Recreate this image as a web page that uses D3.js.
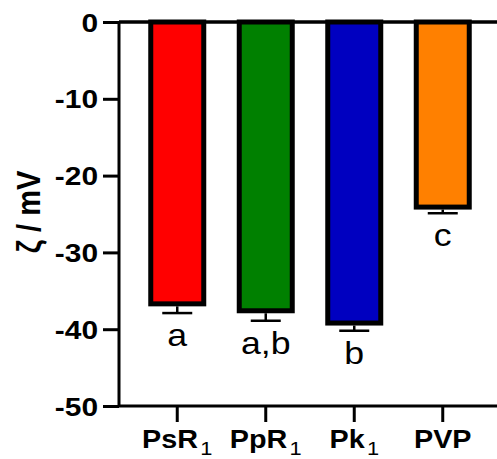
<!DOCTYPE html>
<html><head><meta charset="utf-8">
<script src="https://cdn.jsdelivr.net/npm/d3@7"></script>
<style>body{margin:0;background:#fff}svg{display:block}</style>
</head><body>
<script>
const categories = ["PsR", "PpR", "Pk", "PVP"];
const subscripts = ["1", "1", "1", ""];
const means = [-36.7, -37.6, -39.2, -24.1];
const errors = [1.2, 1.3, 1.0, 0.8];
const letters = ["a", "a,b", "b", "c"];
const colors = ["#ff0000", "#008000", "#0000c0", "#ff8000"];
const yTicks = [0, -10, -20, -30, -40, -50];

const W = 497, H = 459;
const SX = 1.15; // horizontal text stretch of the reference
const svg = d3.select("body").append("svg").attr("width", W).attr("height", H);
const font = "Liberation Sans, Arial, Helvetica, sans-serif";

const y = d3.scaleLinear().domain([0, -50]).range([22, 406]);
const x = d3.scaleBand().domain(categories).range([133, 487]).paddingInner(0).paddingOuter(0);
const barW = 53;

// bars
svg.selectAll("rect.bar").data(categories).enter().append("rect")
  .attr("x", d => x(d) + x.bandwidth()/2 - barW/2)
  .attr("y", y(0))
  .attr("width", barW)
  .attr("height", (d,i) => y(means[i]) - y(0))
  .attr("fill", (d,i) => colors[i])
  .attr("stroke", "#000").attr("stroke-width", 5);

// error bars + letters
categories.forEach((c, i) => {
  const cx = x(c) + x.bandwidth()/2;
  const y1 = y(means[i]), y2 = y(means[i] - errors[i]);
  svg.append("line").attr("x1", cx).attr("x2", cx).attr("y1", y1 + 2.5).attr("y2", y2)
    .attr("stroke", "#000").attr("stroke-width", 2.5);
  svg.append("line").attr("x1", cx - 15).attr("x2", cx + 15).attr("y1", y2).attr("y2", y2)
    .attr("stroke", "#000").attr("stroke-width", 2.5);
  svg.append("text").attr("transform", `translate(${cx},${y2 + 33}) scale(${SX},1)`)
    .attr("text-anchor", "middle").attr("font-family", font).attr("font-size", 31)
    .attr("fill", "#000").text(letters[i]);
});

// zero line
svg.append("line").attr("x1", 119).attr("x2", W).attr("y1", y(0)).attr("y2", y(0))
  .attr("stroke", "#000").attr("stroke-width", 3.5);

// y axis
const yAxis = svg.append("g").attr("transform", "translate(119,0)")
  .call(d3.axisLeft(y).tickValues(yTicks).tickSize(16).tickPadding(5).tickFormat(d => String(d)));
yAxis.select(".domain").attr("stroke-width", 3).attr("d", `M0,${y(0)}V${y(-50)}`);
yAxis.selectAll(".tick line").attr("stroke-width", 3);
yAxis.selectAll(".tick text").attr("x", 0).attr("transform", `translate(-21,0) scale(${SX},1)`)
  .attr("font-family", font).attr("font-size", 26)
  .attr("font-weight", "bold").attr("fill", "#000").attr("dy", "0.35em");

// x axis
const xAxis = svg.append("g").attr("transform", `translate(0,${y(-50)})`)
  .call(d3.axisBottom(x).tickSize(16).tickFormat(""));
xAxis.select(".domain").attr("stroke-width", 3).attr("d", `M119,0H${W}`);
xAxis.selectAll(".tick line").attr("stroke-width", 3);

categories.forEach((c, i) => {
  const cx = x(c) + x.bandwidth()/2;
  const t = svg.append("text").attr("transform", `translate(${cx},448) scale(${SX},1)`)
    .attr("text-anchor", "middle").attr("font-family", font).attr("fill", "#000");
  t.append("tspan").attr("font-size", 25).attr("font-weight", "bold").text(c);
  if (subscripts[i]) t.append("tspan").attr("font-size", 19).attr("dx", 2).attr("dy", 7).text(subscripts[i]);
});

// y axis title
svg.append("text").attr("transform", `translate(40,212) scale(${SX},1) rotate(-90)`)
  .attr("text-anchor", "middle").attr("font-family", font).attr("font-size", 29)
  .attr("font-weight", "bold").attr("fill", "#000").text("ζ / mV");
</script>
</body></html>
